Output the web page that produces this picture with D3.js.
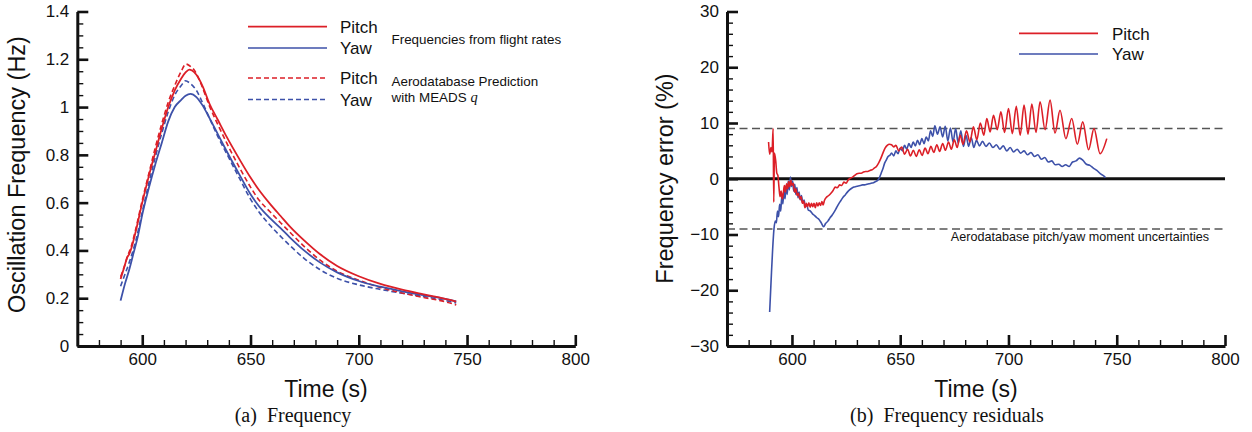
<!DOCTYPE html>
<html>
<head>
<meta charset="utf-8">
<script src="https://cdn.jsdelivr.net/npm/d3@7"></script>
<style>
  html, body { margin: 0; padding: 0; background: #fff; }
  svg { display: block; }
  text { font-family: "Liberation Sans", Arial, Helvetica, sans-serif; fill: #111; }
  .caption { font-family: "Liberation Serif", "Times New Roman", serif; }
</style>
</head>
<body>
<svg id="chart" width="1252" height="432"></svg>
<script>
// ---- Panel (a): oscillation frequency, [time s, frequency Hz] ----
const pitchFlight = [
  [590,0.28],[591,0.31],[592,0.34],[593,0.37],[594,0.385],[595,0.41],[597,0.48],[600,0.60],
  [603,0.71],[606,0.81],[609,0.91],[612,1.00],[615,1.07],[618,1.12],[620,1.145],[621.7,1.157],
  [623,1.153],[625,1.135],[628,1.085],[631,1.015],[635,0.945],[639,0.875],[645,0.78],[650,0.705],
  [654,0.652],[659,0.595],[664,0.543],[668,0.502],[675,0.44],[682,0.385],[690,0.335],[700,0.292],
  [710,0.26],[720,0.236],[730,0.216],[740,0.197],[745,0.186]
];
const yawFlight = [
  [590,0.19],[592,0.26],[594,0.32],[596,0.39],[598,0.46],[600,0.55],[603,0.66],[606,0.76],
  [609,0.85],[612,0.94],[615,1.00],[618,1.03],[620,1.047],[622.3,1.055],[625,1.042],[628,1.005],
  [631,0.955],[635,0.885],[639,0.815],[645,0.715],[650,0.635],[654,0.584],[659,0.535],[664,0.492],
  [668,0.456],[675,0.398],[682,0.35],[690,0.308],[700,0.272],[710,0.248],[720,0.229],[730,0.213],
  [737,0.202],[745,0.187]
];
const pitchPredicted = [
  [590,0.29],[592,0.34],[593,0.37],[595,0.42],[597,0.49],[600,0.61],[603,0.72],[606,0.83],
  [609,0.93],[612,1.02],[615,1.09],[618,1.15],[620.2,1.18],[622,1.172],[624,1.155],[627,1.10],
  [631,1.005],[635,0.925],[639,0.85],[645,0.745],[650,0.665],[654,0.61],[659,0.562],[664,0.515],
  [668,0.478],[675,0.415],[682,0.36],[690,0.313],[700,0.275],[710,0.245],[720,0.222],[730,0.203],
  [740,0.185],[745,0.172]
];
const yawPredicted = [
  [590,0.25],[592,0.30],[594,0.35],[597,0.44],[600,0.56],[603,0.68],[606,0.79],[609,0.89],
  [612,0.98],[615,1.05],[618,1.09],[620,1.11],[622,1.10],[625,1.07],[628,1.015],[631,0.955],
  [635,0.875],[639,0.805],[645,0.70],[650,0.615],[654,0.56],[659,0.505],[664,0.458],[668,0.422],
  [675,0.365],[682,0.32],[690,0.283],[700,0.256],[710,0.237],[720,0.221],[730,0.207],[740,0.19],[745,0.18]
];

// ---- Panel (b): frequency residuals, [time s, error %] ----
const pitchError = [
  [589.2,6.6],[589.7,4.4],[590.3,5.6],[590.8,4.8],[591.3,9.0],[591.6,-4.2],[591.9,4.6],[592.5,3.2],
  [593.0,1.0],[593.5,0.6],[594.0,-1.5],[594.5,-3.2],[595.0,-2.2],[595.5,-3.6],[596.0,-2.6],[596.5,-1.2],
  [597.0,-2.4],[597.5,-0.9],[598.0,-1.8],[598.5,-0.5],[599.0,-1.4],[599.5,-0.3],[600.0,-1.2],[600.6,-0.8],
  [601.2,-2.4],[601.8,-1.8],[602.4,-3.0],[603.0,-2.6],[603.6,-3.6],[604.2,-3.2],[604.8,-4.4],[605.4,-4.0],
  [606.0,-5.2],[606.6,-4.4],[607.2,-5.0],[607.8,-4.3],[608.4,-5.1],[609.0,-4.4],[609.6,-5.0],[610.2,-4.4],
  [610.8,-5.2],[611.4,-4.3],[612.0,-4.9],[612.6,-4.3],[613.2,-4.8],[613.8,-4.1],[614.4,-4.7],[615.0,-3.9],
  [616,-3.3],[617,-3.0],[618,-2.6],[619,-2.1],[620,-1.5],[621,-1.6],[622,-1.1],[623,-1.2],[624,-0.6],
  [625,-0.8],[626,-0.2],[627,0.1],[628,0.3],[629,0.6],[630,0.9],[631,1.0],[632,1.0],[633,1.2],[634,1.3],
  [635,1.3],[636,1.5],[637,1.6],[638,1.9],[639,2.2],[640,2.8],[641,3.6],[642,4.6],[643,5.5],[644,6.0],
  [645,6.2],[646,6.1],[647,5.7],[648.0,6.0],[649.3,5.0],[650.7,5.7],[652.0,4.4],[653.4,5.3],[654.7,4.1],
  [656.1,5.1],[657.4,4.0],[658.8,5.2],[660.1,4.2],[661.5,5.5],[662.8,4.5],[664.2,5.8],[665.5,4.7],
  [666.9,6.1],[668.2,4.9],[669.6,6.3],[670.9,5.1],[672.3,6.6],[673.6,5.3],[675.0,7.0],[676.3,5.6],
  [677.7,7.8],[679.0,6.2],[680.6,8.6],[682.2,6.6],[683.8,9.3],[685.4,7.0],[687.0,10.0],[688.6,7.8],
  [690.0,10.8],[691.5,8.4],[693.1,11.4],[694.8,8.8],[696.5,12.0],[698.2,8.3],[700.0,12.6],[701.8,8.1],
  [703.6,13.0],[705.4,7.8],[707.2,13.2],[709.0,8.0],[710.8,13.4],[712.7,8.3],[714.6,13.8],[716.9,8.8],
  [719.2,14.1],[721.5,8.2],[723.8,12.3],[726.5,7.2],[729.2,10.8],[731.8,6.2],[734.3,10.2],[737.0,5.2],
  [739.5,9.0],[742.3,4.5],[745.4,7.2]
];
const yawError = [
  [589.7,-23.9],[590.4,-18.0],[591.1,-12.5],[591.7,-9.0],[592.3,-7.6],[592.8,-7.9],[593.3,-5.8],[593.8,-6.8],
  [594.3,-4.6],[594.8,-5.8],[595.3,-3.2],[595.8,-4.5],[596.3,-2.0],[596.8,-3.6],[597.3,-1.2],[597.8,-2.8],
  [598.3,-0.4],[598.8,-2.0],[599.3,0.3],[599.8,-1.4],[600.3,-0.4],[600.8,-2.2],[601.3,-1.0],[601.8,-2.8],
  [602.3,-1.6],[602.8,-3.4],[603.3,-2.4],[603.8,-3.8],[604.4,-3.0],[605.0,-4.4],[605.6,-3.8],[606.2,-5.0],
  [606.8,-4.6],[607.5,-5.6],[608.5,-5.8],[609.5,-6.3],[610.5,-6.6],[611.5,-7.0],[612.5,-7.3],[613.5,-7.9],
  [614.6,-8.6],[615.6,-8.0],[616.6,-7.6],[617.6,-7.0],[618.6,-6.5],[619.6,-5.9],[620.6,-5.2],[621.6,-4.5],
  [622.6,-3.9],[623.6,-3.3],[624.6,-2.9],[625.6,-2.4],[626.6,-2.0],[627.6,-1.7],[628.6,-1.5],[629.6,-1.4],
  [630.6,-1.3],[631.6,-1.2],[632.6,-1.1],[633.6,-1.1],[634.6,-1.0],[635.6,-0.9],[636.6,-0.8],[637.6,-0.7],
  [638.6,-0.5],[639.6,-0.3],[640.4,0.2],[641.2,1.0],[642.0,1.8],[642.8,2.8],[643.6,3.4],[644.4,4.0],
  [645.2,4.2],[646.0,4.6],[647.0,4.1],[648.0,5.0],[649.0,4.5],[650.0,5.5],[651.0,5.0],[652.0,6.0],
  [653.0,5.3],[654.0,6.3],[655.0,5.6],[656.0,6.6],[657.0,5.9],[658.0,6.9],[659.0,6.1],[660.0,7.2],
  [661.0,6.3],[662.0,7.5],[663.0,6.8],[664.0,8.6],[665.0,7.6],[666.0,9.5],[667.2,8.0],[668.4,9.3],
  [669.6,7.5],[670.8,9.4],[672.0,6.8],[673.2,9.1],[674.4,6.6],[675.6,9.0],[676.8,6.4],[678.0,8.6],
  [679.2,5.8],[680.4,7.8],[681.6,5.8],[682.8,7.4],[684.0,5.6],[685.2,6.9],[686.6,5.9],[688.0,6.7],
  [689.6,5.8],[691.2,6.4],[692.8,5.6],[694.4,6.1],[696.0,5.3],[697.6,5.9],[699.2,5.0],[700.8,5.6],
  [702.4,4.8],[704.0,5.3],[705.6,4.6],[707.2,5.0],[708.8,4.3],[710.4,4.7],[712.0,4.0],[713.6,4.3],
  [715.2,3.5],[716.8,3.8],[718.4,3.0],[720.0,3.2],[721.6,2.5],[723.2,2.6],[724.8,2.2],[726.4,2.5],
  [728.0,2.2],[729.6,3.0],[731.2,3.2],[732.8,3.7],[734.4,3.3],[736.0,2.6],[737.6,2.4],[739.2,1.9],
  [740.8,1.5],[742.4,0.9],[744.0,0.5],[744.8,0.2]
];
const uncertaintyBounds = [-9, 9];

// ---- Axis ticks ----
const timeDomain = [570, 800];
const timeMajor = [600, 650, 700, 750, 800];
const timeMinor = [580, 590, 610, 620, 630, 640, 660, 670, 680, 690, 710, 720, 730, 740, 760, 770, 780, 790];
const freqMajor = [0, 0.2, 0.4, 0.6, 0.8, 1, 1.2, 1.4];
const freqMinor = [0.05, 0.1, 0.15, 0.25, 0.3, 0.35, 0.45, 0.5, 0.55, 0.65, 0.7, 0.75, 0.85, 0.9, 0.95,
                   1.05, 1.1, 1.15, 1.25, 1.3, 1.35];
const errMajor = [-30, -20, -10, 0, 10, 20, 30];
const errMinor = [-28, -26, -24, -22, -18, -16, -14, -12, -8, -6, -4, -2, 2, 4, 6, 8, 12, 14, 16, 18, 22, 24, 26, 28];

const RED = "#dc1f27";
const BLUE = "#3d51a9";
const svg = d3.select("#chart");

function drawAxes(x, y, yMajor, yMinor, yFormat) {
  const g = svg.append("g");
  const [y0] = y.range();
  const [x0] = x.range();
  // minor ticks
  g.append("g").attr("transform", `translate(0,${y0})`)
    .call(d3.axisBottom(x).tickValues(timeMinor).tickSize(-6).tickFormat(""))
    .call(s => s.select(".domain").remove())
    .call(s => s.selectAll("line").attr("stroke-width", 1.4).attr("stroke", "#111"));
  g.append("g").attr("transform", `translate(${x0},0)`)
    .call(d3.axisLeft(y).tickValues(yMinor).tickSize(-6).tickFormat(""))
    .call(s => s.select(".domain").remove())
    .call(s => s.selectAll("line").attr("stroke-width", 1.4).attr("stroke", "#111"));
  // major ticks with labels
  g.append("g").attr("transform", `translate(0,${y0})`)
    .call(d3.axisBottom(x).tickValues(timeMajor).tickSize(-11).tickSizeOuter(0).tickPadding(6.5))
    .call(s => s.select(".domain").attr("stroke-width", 3).attr("stroke", "#111"))
    .call(s => s.selectAll(".tick line").attr("stroke-width", 2.6).attr("stroke", "#111"))
    .call(s => s.selectAll("text").attr("font-size", 17).attr("font-family", "Liberation Sans, Arial, sans-serif").attr("fill", "#111"));
  g.append("g").attr("transform", `translate(${x0},0)`)
    .call(d3.axisLeft(y).tickValues(yMajor).tickSize(-11).tickSizeOuter(0).tickPadding(8).tickFormat(yFormat))
    .call(s => s.select(".domain").attr("stroke-width", 3).attr("stroke", "#111"))
    .call(s => s.selectAll(".tick line").attr("stroke-width", 2.6).attr("stroke", "#111"))
    .call(s => s.selectAll("text").attr("font-size", 17).attr("font-family", "Liberation Sans, Arial, sans-serif").attr("fill", "#111"));
}

function drawSeries(x, y, data, color, dash, width) {
  const line = d3.line().x(d => x(d[0])).y(d => y(d[1])).curve(d3.curveMonotoneX);
  svg.append("path").datum(data)
    .attr("d", line).attr("fill", "none")
    .attr("stroke", color).attr("stroke-width", width)
    .attr("stroke-dasharray", dash || null)
    .attr("stroke-linejoin", "round");
}

// ================= Panel (a) =================
const xA = d3.scaleLinear().domain(timeDomain).range([77.3, 575.3]);
const yA = d3.scaleLinear().domain([0, 1.4]).range([346, 11.5]);
const fmtFreq = d => (d === 0 || d === 1) ? String(d) : d.toFixed(1);

drawSeries(xA, yA, yawPredicted, BLUE, "5,3", 1.6);
drawSeries(xA, yA, pitchPredicted, RED, "5,3", 1.6);
drawSeries(xA, yA, yawFlight, BLUE, null, 1.8);
drawSeries(xA, yA, pitchFlight, RED, null, 1.8);
drawAxes(xA, yA, freqMajor, freqMinor, fmtFreq);

// legend (a)
const legA = [
  { label: "Pitch", color: RED, dash: null, y: 26.7 },
  { label: "Yaw", color: BLUE, dash: null, y: 48 },
  { label: "Pitch", color: RED, dash: "5,3", y: 78 },
  { label: "Yaw", color: BLUE, dash: "5,3", y: 99.5 }
];
legA.forEach(d => {
  svg.append("line").attr("x1", 248).attr("x2", 327).attr("y1", d.y).attr("y2", d.y)
    .attr("stroke", d.color).attr("stroke-width", 1.7).attr("stroke-dasharray", d.dash);
  svg.append("text").attr("x", 340).attr("y", d.y + 6.3).attr("font-size", 17).text(d.label);
});
svg.append("text").attr("x", 391.5).attr("y", 43.8).attr("font-size", 13.4).text("Frequencies from flight rates");
svg.append("text").attr("x", 391.5).attr("y", 85.5).attr("font-size", 13.4).text("Aerodatabase Prediction");
const meads = svg.append("text").attr("x", 391.5).attr("y", 101.8).attr("font-size", 13.4);
meads.append("tspan").text("with MEADS ");
meads.append("tspan").attr("font-family", "Liberation Serif, Times New Roman, serif")
  .attr("font-style", "italic").attr("font-size", 14.5).text("q");

// titles (a)
svg.append("text").attr("transform", `translate(25,174.5) rotate(-90)`)
  .attr("text-anchor", "middle").attr("font-size", 23.5).text("Oscillation Frequency (Hz)");
svg.append("text").attr("x", 326).attr("y", 396.5).attr("text-anchor", "middle")
  .attr("font-size", 23).text("Time (s)");
svg.append("text").attr("class", "caption").attr("x", 293).attr("y", 421.5)
  .attr("text-anchor", "middle").attr("font-size", 20).attr("xml:space", "preserve")
  .text("(a)  Frequency");

// ================= Panel (b) =================
const xB = d3.scaleLinear().domain(timeDomain).range([727, 1225]);
const yB = d3.scaleLinear().domain([-30, 30]).range([346, 11.5]);

// uncertainty bounds
svg.append("g").selectAll("line").data(uncertaintyBounds).join("line")
  .attr("x1", xB(timeDomain[0])).attr("x2", xB(timeDomain[1]))
  .attr("y1", d => yB(d)).attr("y2", d => yB(d))
  .attr("stroke", "#555").attr("stroke-width", 1.5).attr("stroke-dasharray", "8,4.5");
// zero line
svg.append("line").attr("x1", xB(timeDomain[0])).attr("x2", xB(timeDomain[1]))
  .attr("y1", yB(0)).attr("y2", yB(0)).attr("stroke", "#111").attr("stroke-width", 3);

drawSeries(xB, yB, yawError, BLUE, null, 1.6);
drawSeries(xB, yB, pitchError, RED, null, 1.6);
drawAxes(xB, yB, errMajor, errMinor, d3.format("d"));

svg.append("text").attr("x", 1080).attr("y", 241.2).attr("text-anchor", "middle")
  .attr("font-size", 12.6).text("Aerodatabase pitch/yaw moment uncertainties");

// legend (b)
const legB = [
  { label: "Pitch", color: RED, y: 33.3 },
  { label: "Yaw", color: BLUE, y: 54 }
];
legB.forEach(d => {
  svg.append("line").attr("x1", 1019).attr("x2", 1098).attr("y1", d.y).attr("y2", d.y)
    .attr("stroke", d.color).attr("stroke-width", 1.7);
  svg.append("text").attr("x", 1112).attr("y", d.y + 6.3).attr("font-size", 17).text(d.label);
});

// titles (b)
svg.append("text").attr("transform", `translate(673,178.5) rotate(-90)`)
  .attr("text-anchor", "middle").attr("font-size", 23.5).text("Frequency error (%)");
svg.append("text").attr("x", 976).attr("y", 396.5).attr("text-anchor", "middle")
  .attr("font-size", 23).text("Time (s)");
svg.append("text").attr("class", "caption").attr("x", 947).attr("y", 421.5)
  .attr("text-anchor", "middle").attr("font-size", 20).attr("xml:space", "preserve")
  .text("(b)  Frequency residuals");
</script>
</body>
</html>
